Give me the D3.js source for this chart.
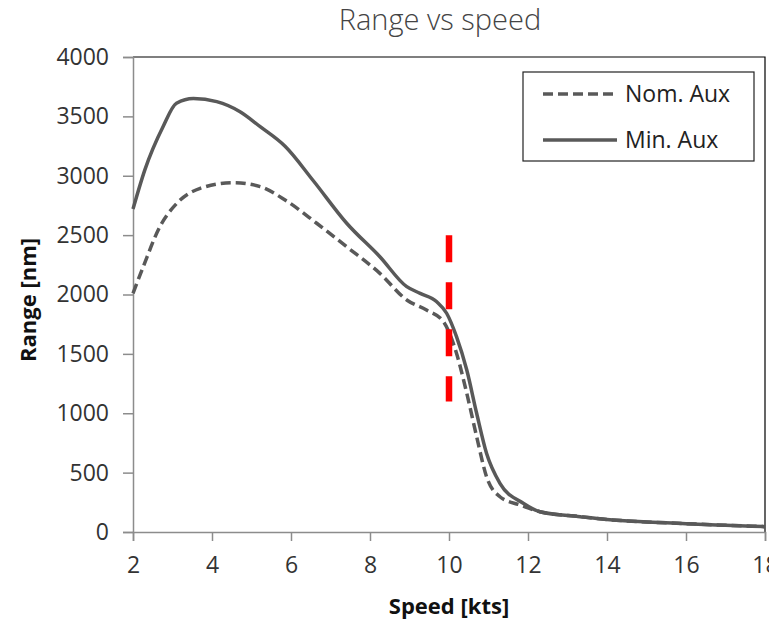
<!DOCTYPE html>
<html>
<head>
<meta charset="utf-8">
<script src="https://cdn.jsdelivr.net/npm/d3@7"></script>
<style>
  body { margin: 0; background: #fff; }
  svg { display: block; }
</style>
</head>
<body>
<svg id="chart" width="769" height="620"></svg>
<script>
// values
const minAuxSpeed = [2, 2.3, 2.76, 3.1, 3.53, 4.12, 4.71, 5.22, 5.85, 6.56, 7.41, 8.25, 8.93, 9.27, 9.69, 9.94, 10.19, 10.45, 10.7, 10.95, 11.29, 11.88, 12.3, 13.32, 14, 15, 16, 17, 18];
const minAuxRange = [2720, 3050, 3413, 3610, 3650, 3624, 3539, 3413, 3248, 2960, 2600, 2318, 2066, 2010, 1939, 1842, 1645, 1364, 1000, 663, 410, 242, 171, 129, 105, 85, 70, 57, 45];

const nomAuxSpeed = [2, 2.26, 2.68, 3.11, 3.7, 4.54, 5.22, 5.85, 6.65, 7.41, 8.25, 8.93, 9.43, 9.86, 10.19, 10.45, 10.7, 10.95, 11.29, 11.8, 12.3, 13.32, 14, 15, 16, 17, 18];
const nomAuxRange = [2010, 2234, 2571, 2768, 2894, 2942, 2908, 2796, 2600, 2402, 2178, 1954, 1869, 1771, 1505, 1168, 803, 466, 297, 227, 171, 129, 105, 85, 70, 57, 45];

const limitSpeed = [10, 10];
const limitRange = [2500, 1100];

const xTicks = [2, 4, 6, 8, 10, 12, 14, 16, 18];
const yTicks = [0, 500, 1000, 1500, 2000, 2500, 3000, 3500, 4000];

const seriesNames = ["Nom. Aux", "Min. Aux"];

const svg = d3.select("#chart");
const margin = {top: 57, right: 4, bottom: 88, left: 133};
const width = 769 - margin.left - margin.right;
const height = 620 - margin.top - margin.bottom;

const labelFont = "'Open Sans', sans-serif";
const grey = "#595959";

const x = d3.scaleLinear().domain([2, 18]).range([0, width]);
const y = d3.scaleLinear().domain([0, 4000]).range([height, 0]);

const g = svg.append("g").attr("transform", `translate(${margin.left},${margin.top})`);

// title
svg.append("text")
  .attr("x", 440)
  .attr("y", 30)
  .attr("text-anchor", "middle")
  .attr("font-family", "'Open Sans', sans-serif")
  .attr("font-weight", 300)
  .attr("font-size", 29)
  .attr("fill", "#444")
  .text("Range vs speed");

// plot frame top/right
g.append("path")
  .attr("d", `M0,0H${width}V${height}`)
  .attr("fill", "none")
  .attr("stroke", "#000")
  .attr("stroke-width", 1.2);

const xAxis = g.append("g")
  .attr("transform", `translate(0,${height})`)
  .call(d3.axisBottom(x).tickValues(xTicks).tickSize(9).tickPadding(16).tickFormat(d3.format("d")));

const yAxis = g.append("g")
  .call(d3.axisLeft(y).tickValues(yTicks).tickSize(10).tickPadding(14).tickFormat(d3.format("d")));

[xAxis, yAxis].forEach(a => {
  a.select(".domain").attr("stroke", "#8c8c8c").attr("stroke-width", 1.5);
  a.selectAll(".tick line").attr("stroke", "#8c8c8c").attr("stroke-width", 1.5);
  a.selectAll(".tick text")
    .attr("font-family", labelFont)
    .attr("font-size", 23)
    .attr("fill", "#333");
});

// axis titles
svg.append("text")
  .attr("x", margin.left + x(10))
  .attr("y", 614)
  .attr("text-anchor", "middle")
  .attr("font-family", labelFont)
  .attr("font-weight", "bold")
  .attr("font-size", 22)
  .attr("fill", "#111")
  .text("Speed [kts]");

svg.append("text")
  .attr("transform", "translate(36,300) rotate(-90)")
  .attr("text-anchor", "middle")
  .attr("font-family", labelFont)
  .attr("font-weight", "bold")
  .attr("font-size", 22)
  .attr("fill", "#111")
  .text("Range [nm]");

const line = d3.line()
  .x(d => x(d[0]))
  .y(d => y(d[1]))
  .curve(d3.curveMonotoneX);

const nomData = nomAuxSpeed.map((s, i) => [s, nomAuxRange[i]]);
const minData = minAuxSpeed.map((s, i) => [s, minAuxRange[i]]);

g.append("path")
  .datum(nomData)
  .attr("d", line)
  .attr("fill", "none")
  .attr("stroke", grey)
  .attr("stroke-width", 3.5)
  .attr("stroke-dasharray", "10,5");

g.append("path")
  .datum(minData)
  .attr("d", line)
  .attr("fill", "none")
  .attr("stroke", grey)
  .attr("stroke-width", 3.5);

// red speed limit marker
g.append("line")
  .attr("x1", x(limitSpeed[0]))
  .attr("x2", x(limitSpeed[1]))
  .attr("y1", y(limitRange[0]))
  .attr("y2", y(limitRange[1]))
  .attr("stroke", "#ff0000")
  .attr("stroke-width", 6.5)
  .attr("stroke-dasharray", "27,20");

// legend
const legend = svg.append("g").attr("transform", "translate(523,72)");
legend.append("rect")
  .attr("width", 231)
  .attr("height", 89)
  .attr("fill", "#fff")
  .attr("stroke", "#222")
  .attr("stroke-width", 1.2);

seriesNames.forEach((name, i) => {
  const row = legend.append("g").attr("transform", `translate(0,${22 + i * 46})`);
  row.append("line")
    .attr("x1", 20).attr("x2", 94)
    .attr("stroke", grey)
    .attr("stroke-width", 3.5)
    .attr("stroke-dasharray", i === 0 ? "10,5" : null);
  row.append("text")
    .attr("x", 102)
    .attr("y", 8)
    .attr("font-family", labelFont)
    .attr("font-size", 23)
    .attr("fill", "#222")
    .text(name);
});
</script>
</body>
</html>
